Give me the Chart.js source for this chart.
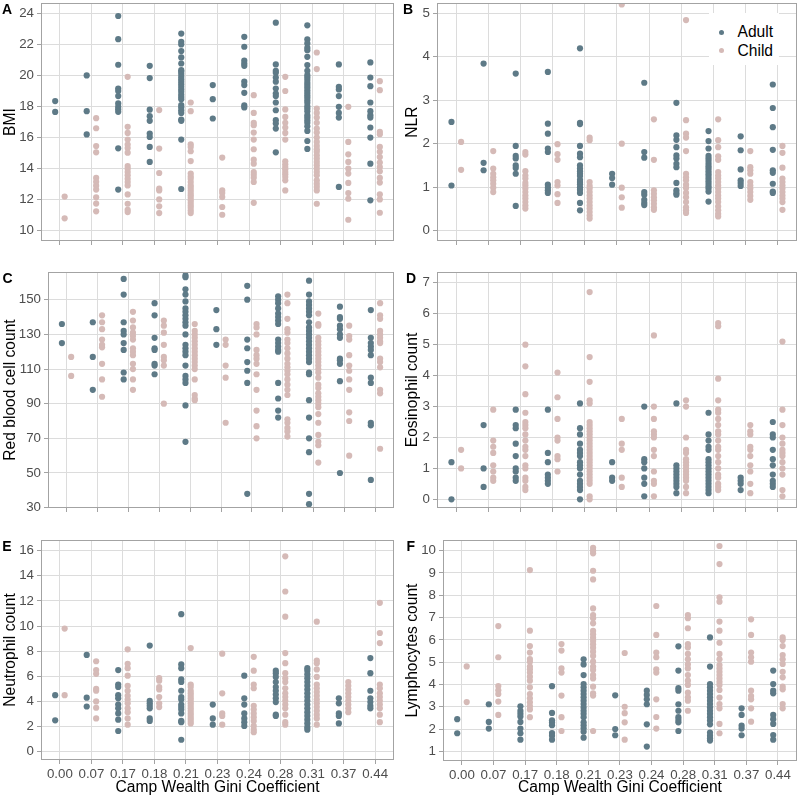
<!DOCTYPE html>
<html>
<head>
<meta charset="utf-8">
<script src="https://cdn.jsdelivr.net/npm/chart.js@4.4.1/dist/chart.umd.min.js"></script>
<style>
html,body{margin:0;padding:0;background:#fff;width:800px;height:800px;overflow:hidden;font-family:"Liberation Sans",Arial,sans-serif;}
#wrap{position:relative;width:800px;height:800px;}
canvas{position:absolute;}
.tag{position:absolute;font-weight:bold;font-size:14px;line-height:14px;color:#000;}
#legend{position:absolute;left:709px;top:13px;width:70px;height:52px;background:#fff;}
#legend .dot{position:absolute;width:5px;height:5px;border-radius:50%;}
#legend .lab{position:absolute;left:28.5px;font-size:15.6px;line-height:18px;color:#000;white-space:nowrap;}
</style>
</head>
<body>
<div id="wrap">
  <div class="tag" style="left:2px;top:2.2px">A</div>
  <div class="tag" style="left:403px;top:2.2px">B</div>
  <div class="tag" style="left:2.6px;top:271.2px">C</div>
  <div class="tag" style="left:406px;top:271.2px">D</div>
  <div class="tag" style="left:2.3px;top:539.2px">E</div>
  <div class="tag" style="left:406.5px;top:539.2px">F</div>
</div>
<script>
// ---------- categories & axis titles ----------
const categories = ["0.00","0.07","0.17","0.18","0.21","0.23","0.24","0.28","0.31","0.37","0.44"];
const xTitle = "Camp Wealth Gini Coefficient";
const seriesNames = ["Adult","Child"];

// ---------- A: BMI ----------
const bmiTicks = [10,12,14,16,18,20,22,24];
const bmiRange = [9.34,24.66];
const bmiAdult = [
 [18.35,17.65],
 [20.0,17.7,16.2],
 [23.83,22.34,20.69,19.16,19.0,18.67,18.2,17.98,17.83,17.66,15.31,12.65],
 [20.62,19.83,17.8,17.38,17.08,16.26,16.04,15.4,14.43],
 [22.7,22.17,22.0,21.57,21.16,20.77,20.34,20.24,20.09,19.91,19.76,19.6,19.44,19.27,19.1,18.95,18.77,18.62,18.47,18.09,17.94,17.76,17.59,17.16,17.08,15.87,12.69],
 [19.38,18.47,17.23],
 [22.49,21.85,20.95,20.77,20.62,19.6,19.38,18.88,18.07,17.94],
 [23.4,20.71,20.3,20.17,19.87,19.6,19.16,18.84,18.67,18.26,17.76,17.12,16.9,16.58,15.05],
 [23.23,22.32,22.06,21.78,21.63,21.2,20.67,20.3,20.02,19.87,19.7,19.53,19.38,19.23,19.05,18.88,18.73,18.58,18.41,18.24,18.02,17.87,17.7,17.44,17.29,17.12,16.95,16.73,16.43,15.78,15.27],
 [20.71,19.27,19.1,18.67,17.98,17.59,17.29,12.82],
 [20.84,19.87,19.31,18.26,17.7,17.44,17.29,16.65,16.0,14.32,11.96]
];
const bmiChild = [
 [12.2,10.8],
 [17.25,16.6,15.45,15.05,13.4,13.15,12.9,12.65,12.15,11.75,11.25],
 [19.91,16.69,16.3,15.87,15.55,15.33,15.03,14.17,14.0,13.78,13.57,13.35,13.14,12.92,12.34,11.74,11.35,11.2],
 [17.77,15.29,13.72,12.71,12.6,12.02,11.57,11.14],
 [18.26,17.7,15.57,15.4,15.12,14.49,13.68,13.5,13.35,13.14,12.92,12.77,12.6,12.43,12.28,12.13,11.96,11.8,11.63,11.48,11.3,11.14],
 [14.71,12.6,12.43,12.17,11.53,11.03],
 [18.73,17.59,16.95,16.8,16.32,15.87,15.25,14.58,14.32,13.78,13.61,13.42,13.14,11.8],
 [19.91,19.0,17.81,17.33,16.95,16.65,16.3,15.87,14.47,14.28,14.1,13.96,13.78,13.64,13.46,13.25,12.6],
 [21.48,20.41,17.87,17.59,17.29,16.95,16.58,16.32,16.0,15.72,15.46,15.25,15.08,14.86,14.65,14.43,14.22,14.0,13.78,13.57,13.25,13.03,12.82,12.6,11.74],
 [17.98,15.72,14.92,14.43,14.0,13.68,13.08,12.43,12.06,10.71],
 [19.63,19.05,16.37,16.22,15.4,15.08,14.75,14.39,14.1,13.83,13.4,13.1,12.34,12.02,11.16]
];

// ---------- B: NLR ----------
const nlrTicks = [0,1,2,3,4,5];
const nlrRange = [-0.235,5.23];
const nlrAdult = [
 [2.5,1.04],
 [3.84,1.56,1.39],
 [3.61,1.95,1.72,1.66,1.5,1.44,1.31,0.57],
 [3.65,2.46,2.23,1.89,1.81,1.06,0.99,0.93,0.87],
 [4.19,2.48,2.45,1.95,1.77,1.69,1.5,1.43,1.37,1.31,1.26,1.17,1.12,1.07,1.0,0.94,0.87,0.64,0.47],
 [1.31,1.21,1.06],
 [3.4,1.81,1.68,0.89,0.83,0.71,0.64,0.59],
 [2.94,2.19,2.09,1.92,1.73,1.66,1.54,1.46,1.1,0.93,0.87,0.83],
 [2.29,2.06,1.89,1.72,1.66,1.6,1.54,1.48,1.43,1.37,1.31,1.26,1.2,1.14,1.08,1.02,0.97,0.9,0.67],
 [2.17,1.85,1.41,1.16,1.1,1.03],
 [3.36,2.82,2.38,1.86,1.39,1.33,1.08,0.9,0.87]
];
const nlrChild = [
 [2.04,1.4],
 [1.83,1.43,1.31,1.23,1.16,1.08,0.99,0.89],
 [1.81,1.75,1.37,1.27,1.2,1.1,1.04,0.97,0.89,0.81,0.74,0.66,0.58,0.51],
 [1.99,1.76,1.63,1.12,1.04,0.84,0.64],
 [2.14,2.08,1.12,1.03,0.97,0.89,0.81,0.74,0.66,0.58,0.51,0.43,0.35,0.28],
 [5.2,2.0,0.99,0.77,0.53],
 [2.56,1.63,0.93,0.85,0.77,0.7,0.62,0.54,0.48],
 [4.84,2.54,2.23,2.14,1.83,1.31,1.23,1.16,1.06,0.98,0.87,0.77,0.66,0.54,0.47,0.41],
 [2.56,2.08,1.92,1.71,1.63,1.35,1.27,1.2,1.12,1.04,0.97,0.89,0.81,0.74,0.66,0.56,0.47,0.39,0.33],
 [1.83,1.46,1.39,1.31,1.12,1.04,0.97,0.89,0.8,0.71],
 [1.95,1.79,1.45,1.2,1.12,1.04,0.97,0.89,0.81,0.74,0.66,0.48]
];

// ---------- C: Red blood cell count ----------
const rbcTicks = [30,50,70,90,110,130,150];
const rbcRange = [29.8,166];
const rbcAdult = [
 [136,125],
 [137,117,98],
 [162,153,137,132,130,125,121,108,104],
 [148,141,128,122,121,113,112,107],
 [164,163,156,153,149,145,143,141,139,137,135,130,124,122,120,118,112,106,104,102,89,68],
 [144,133,124],
 [158,150,127,122,114,109,102,38],
 [152,150,148,145,142,140,138,136,127,125,123,121,120,102,93,86,82],
 [161,153,149,147,145,143,141,137,134,132,130,128,126,124,122,120,118,116,114,108,107,92,82,70,62,38,32],
 [146,140,139,135,133,130,128,116,115,113,103,50],
 [144,128,125,123,121,118,105,102,79,77.5,46]
];
const rbcChild = [
 [117,106],
 [141,137,133,127,124,122.5,113,104,94],
 [143,138,134,131,129,127,122,120,118,113,110,104,98],
 [138,135,131,124,117,115,112,90],
 [136,132,130,128,126,124,122,120,118,116,114,112,110,104,95,93,92],
 [127,124,112,105,79],
 [136,134,130,121,118,116,113,107,98,86,77,70],
 [153,148,139,133,131,127,125,122,119,116,113,111,109,107,104,101,98,95,81,79,76,74,71],
 [142,136,135,128,126,124,122,120,118,116,114,112,110,108,105,101,99,96,94,92,90,88,84,79,72,68,66,56],
 [135,129,127,118,112,109,104,98,85,80,60],
 [148,141,139,132,130,128,126,125,116,114,111,98,96,64]
];

// ---------- D: Eosinophil count ----------
const eosTicks = [0,1,2,3,4,5,6,7];
const eosRange = [-0.28,7.35];
const eosAdult = [
 [1.2,0],
 [2.4,1.0,0.4],
 [2.9,2.4,2.3,1.8,1.4,1.0,0.9,0.7,0.6],
 [2.9,1.5,1.2,0.8,0.7,0.6,0.5],
 [3.1,2.3,2.1,1.8,1.6,1.5,1.4,1.2,1.1,1.0,0.8,0.6,0.5,0.4,0.3,0],
 [1.2,0.7,0.6],
 [3.0,1.3,1.2,1.0,0.7,0.5,0.1],
 [3.1,1.1,1.0,0.9,0.8,0.7,0.6,0.5,0.4,0.2],
 [2.8,2.1,1.9,1.7,1.6,1.3,1.2,1.1,1.0,0.9,0.8,0.7,0.6,0.5,0.4,0.3,0.2],
 [0.7,0.6,0.5,0.3],
 [2.5,2.1,2.0,1.6,1.3,1.1,0.8,0.6,0.5,0.4]
];
const eosChild = [
 [1.6,1.0],
 [2.9,1.9,1.7,1.5,1.1,0.9,0.7,0.6],
 [5.0,4.3,3.4,2.8,2.5,2.4,2.3,2.1,1.9,1.7,1.6,1.4,1.1,1.0,0.7,0.6,0.4,0.3],
 [4.1,3.3,2.6,2.0,1.9,1.4,1.3,0.9],
 [6.7,4.6,3.8,3.2,3.1,2.5,2.4,2.3,2.2,2.1,2.0,1.9,1.8,1.7,1.6,1.5,1.4,1.3,1.2,1.1,1.0,0.9,0.8,0.7,0.6,0.5,0.1,0],
 [2.6,1.8,1.6,0.7,0.4],
 [5.3,3.0,2.6,2.2,2.1,2.0,1.6,1.4,0.9,0.6,0.5,0.1],
 [3.2,3.0,2.0,1.6,1.5,1.3,1.2,1.1,1.0,0.9,0.8,0.7,0.6,0.4,0.2],
 [5.7,5.6,3.9,3.2,2.9,2.8,2.6,2.4,2.2,2.1,1.9,1.7,1.6,1.4,1.2,1.0,0.8,0.7,0.5,0.4,0.3],
 [2.4,2.2,2.1,1.7,1.6,1.4,1.1,0.9,0.5,0.2],
 [5.1,2.9,2.4,2.0,1.8,1.6,1.5,1.4,1.2,1.0,0.8,0.3,0.1]
];

// ---------- E: Neutrophil count ----------
const neuTicks = [0,2,4,6,8,10,12,14,16];
const neuRange = [-0.66,16.85];
const neuAdult = [
 [4.5,2.5],
 [7.7,4.3,3.6],
 [6.5,5.35,5.15,4.5,4.25,3.75,3.45,3.05,2.55,1.65],
 [8.45,4.05,3.85,3.65,3.45,2.65,2.45],
 [10.95,6.95,6.65,5.75,5.55,4.85,4.35,4.15,3.75,3.55,3.35,3.05,2.45,2.35,0.95],
 [3.75,2.65,2.15],
 [6.05,4.25,3.75,3.05,2.65,2.35,2.05],
 [6.45,6.25,5.95,5.55,5.15,4.85,4.55,4.25,3.95,2.95,2.85],
 [6.65,6.45,6.15,5.85,5.55,5.25,4.95,4.65,4.35,4.05,3.75,3.45,3.15,2.85,2.55,2.25,1.95,1.75],
 [4.25,3.85,3.05,2.85,2.25],
 [7.45,6.25,4.85,4.25,3.95,3.65,3.45]
];
const neuChild = [
 [9.8,4.5],
 [7.2,6.5,6.2,5.0,4.85,4.0,3.5,2.65],
 [8.15,7.0,6.65,6.05,5.25,4.85,4.45,4.15,3.85,3.45,3.15,2.65,2.15],
 [5.85,5.65,5.15,4.95,4.35,3.85,3.55],
 [8.25,5.35,5.15,4.85,4.65,4.45,4.25,4.05,3.85,3.65,3.45,3.25,3.05,2.85,2.65,2.45,2.25],
 [7.8,4.65,3.05,2.85,2.15],
 [7.55,6.45,5.35,5.05,3.65,3.35,3.05,2.75,2.45,2.05,1.75,1.55],
 [15.55,12.75,10.75,7.85,7.05,6.25,5.85,5.55,5.05,4.65,4.35,4.05,3.75,3.45,2.95,2.35,2.15],
 [10.35,7.25,7.05,6.55,5.95,5.35,5.05,4.75,4.45,4.15,3.85,3.55,3.25,2.95,2.65,2.15],
 [5.55,5.25,4.95,4.65,4.35,4.05,3.75,3.45,3.15],
 [11.85,9.45,8.65,5.35,5.05,4.65,4.35,4.05,3.75,3.45,2.95,2.35]
];

// ---------- F: Lymphocytes count ----------
const lymTicks = [1,2,3,4,5,6,7,8,9,10];
const lymRange = [0.565,10.48];
const lymAdult = [
 [2.44,1.81],
 [3.11,2.32,2.02],
 [3.02,2.81,2.68,2.56,2.32,2.02,1.81,1.52],
 [3.92,2.72,2.39,2.29,2.17,1.82,1.7,1.52],
 [5.13,4.9,4.42,4.02,3.87,3.72,3.57,3.42,3.27,3.12,2.97,2.82,2.68,2.53,2.3,2.17,2.03,1.88,1.61],
 [3.51,2.0,1.72],
 [3.72,3.53,3.33,3.11,2.21,1.21],
 [5.71,4.62,3.83,3.72,3.11,2.82,2.53,2.41,2.3,1.91],
 [6.11,4.8,4.02,3.87,3.72,3.57,3.42,3.27,3.12,2.97,2.82,2.68,2.53,2.38,2.21,1.84,1.7,1.58,1.48],
 [2.93,2.63,2.15,2.02,1.72],
 [4.62,4.02,3.72,3.6,2.63,2.44,2.23,1.73,1.52]
];
const lymChild = [
 [4.81,3.21],
 [6.62,5.22,3.93,3.74,3.57,3.23,2.63],
 [9.13,6.41,5.72,5.43,5.14,5.02,4.8,4.68,4.53,4.35,4.17,3.87,3.57,3.38,3.2,3.03,2.88,2.53],
 [5.81,5.52,4.72,4.53,3.5,2.53,1.91],
 [10.13,10.0,9.88,9.1,8.71,7.41,7.11,6.97,6.74,6.4,6.25,6.1,5.95,5.8,5.65,5.47,5.28,5.02,4.8,4.65,4.42,4.27,3.9,3.6,3.5,1.91],
 [5.41,3.0,2.71,2.3,1.52],
 [7.52,6.22,5.43,5.22,4.68,4.53,3.33,2.54,2.02],
 [7.11,6.97,6.52,5.81,5.66,5.37,5.13,4.9,4.72,4.42,4.17,3.98,3.63,3.42,3.27,2.82],
 [10.21,9.4,7.91,7.71,6.82,6.41,5.87,5.37,5.13,4.87,4.72,4.57,4.42,4.27,4.12,3.98,3.75,3.41,3.12,2.93,2.23,1.81],
 [6.92,6.22,5.43,5.22,5.02,3.72,3.48,3.33,2.93,2.33],
 [6.11,5.99,5.72,5.32,5.13,4.92,4.57,4.32,3.9,3.78,3.12,2.93]
];

// ---------- styling ----------
const ADULT = "#5E7A87";
const CHILD = "#D5BAB7";
const GRID = "#DCDCDC";
const TICKC = "#A3A3A3";
const BORDER = "#A3A3A3";
const FONT = "'Liberation Sans', Arial, sans-serif";
Chart.defaults.font.family = FONT;

const borderPlugin = {
  id: "panelBorder",
  afterDatasetsDraw(chart) {
    const {ctx, chartArea: a} = chart;
    ctx.save();
    ctx.strokeStyle = BORDER;
    ctx.lineWidth = 1;
    const l = Math.round(a.left) + 0.5, t = Math.round(a.top) + 0.5;
    const r = Math.round(a.right) - 0.5, b = Math.round(a.bottom) - 0.5;
    ctx.strokeRect(l, t, r - l, b - t);
    ctx.restore();
  }
};

const panels = [
  {adult: bmiAdult, child: bmiChild, ticks: bmiTicks, range: bmiRange, title: "BMI", box: [0,0,400,255], area: [41,3,394,241], xl: false, tp: 1},
  {adult: nlrAdult, child: nlrChild, ticks: nlrTicks, range: nlrRange, title: "NLR", box: [400,0,400,255], area: [437,3,797,241], xl: false, tp: 3.5},
  {adult: rbcAdult, child: rbcChild, ticks: rbcTicks, range: rbcRange, title: "Red blood cell count", box: [0,255,400,260], area: [48,272,394,508], xl: false, tp: 1},
  {adult: eosAdult, child: eosChild, ticks: eosTicks, range: eosRange, title: "Eosinophil count", box: [400,255,400,260], area: [437,272,797,508], xl: false, tp: 3.5},
  {adult: neuAdult, child: neuChild, ticks: neuTicks, range: neuRange, title: "Neutrophil count", box: [0,515,400,285], area: [41,540,394,760], xl: true, tp: 1},
  {adult: lymAdult, child: lymChild, ticks: lymTicks, range: lymRange, title: "Lymphocytes count", box: [400,515,400,285], area: [443,540,797,761], xl: true, tp: 3.5}
];

const wrap = document.getElementById("wrap");
const toPoints = (arr, off) => arr.flatMap((vals, i) => vals.map(v => ({x: i + 1 + off, y: v})));

panels.forEach(p => {
  const [cx, cy, cw, ch] = p.box;
  const [l, t, r, b] = p.area;
  const yW = l - cx, padTop = t - cy, padRight = cx + cw - r, xH = cy + ch - b;
  const c = document.createElement("canvas");
  c.width = cw; c.height = ch;
  c.style.left = cx + "px"; c.style.top = cy + "px";
  c.style.width = cw + "px"; c.style.height = ch + "px";
  wrap.insertBefore(c, wrap.firstChild);
  const gridOpts = {color: GRID, lineWidth: 1, drawTicks: true, tickLength: 4, tickColor: TICKC, tickWidth: 1};
  new Chart(c, {
    type: "scatter",
    data: {datasets: [
      {label: seriesNames[0], data: toPoints(p.adult, -0.15), backgroundColor: ADULT, pointBackgroundColor: ADULT, pointRadius: 3.1, pointHoverRadius: 3.1, pointBorderWidth: 0, borderWidth: 0, clip: 0},
      {label: seriesNames[1], data: toPoints(p.child, 0.15), backgroundColor: CHILD, pointBackgroundColor: CHILD, pointRadius: 3.1, pointHoverRadius: 3.1, pointBorderWidth: 0, borderWidth: 0, clip: 0}
    ]},
    options: {
      responsive: false, animation: false, devicePixelRatio: 1, events: [],
      layout: {padding: {left: 0, top: padTop, right: padRight, bottom: 0}},
      plugins: {legend: {display: false}, tooltip: {enabled: false}},
      scales: {
        x: {
          type: "linear", min: 0.4, max: 11.6,
          afterBuildTicks: s => { s.ticks = categories.map((_, i) => ({value: i + 1})); },
          afterFit: s => { s.height = xH; s.paddingLeft = 0; s.paddingRight = 0; },
          grid: gridOpts, border: {display: false},
          ticks: {display: p.xl, autoSkip: false, maxRotation: 0, minRotation: 0, padding: 2, color: "#4D4D4D", font: {size: 13.3},
                  callback: v => categories[Math.round(v) - 1]},
          title: {display: p.xl, text: xTitle, color: "#000", font: {size: 15.6}, padding: {top: 0, bottom: 3}}
        },
        y: {
          type: "linear", min: p.range[0], max: p.range[1],
          afterBuildTicks: s => { s.ticks = p.ticks.map(v => ({value: v})); },
          afterFit: s => { s.width = yW; s.paddingTop = 0; s.paddingBottom = 0; },
          grid: gridOpts, border: {display: false},
          ticks: {autoSkip: false, padding: 3, color: "#4D4D4D", font: {size: 13.3}, callback: v => String(v)},
          title: {display: true, text: p.title, color: "#000", font: {size: 15.6}, padding: {top: p.tp, bottom: 0}}
        }
      }
    },
    plugins: [borderPlugin]
  });
});

// legend (inside panel B)
const leg = document.createElement("div");
leg.id = "legend";
[ADULT, CHILD].forEach((col, i) => {
  const d = document.createElement("div");
  d.className = "dot";
  d.style.background = col;
  d.style.left = (12.7 - 2.5) + "px";
  d.style.top = (19.3 + i * 18.4 - 2.5) + "px";
  leg.appendChild(d);
  const s = document.createElement("div");
  s.className = "lab";
  s.style.top = (9.9 + i * 18.8) + "px";
  s.textContent = seriesNames[i];
  leg.appendChild(s);
});
wrap.appendChild(leg);
</script>
</body>
</html>
